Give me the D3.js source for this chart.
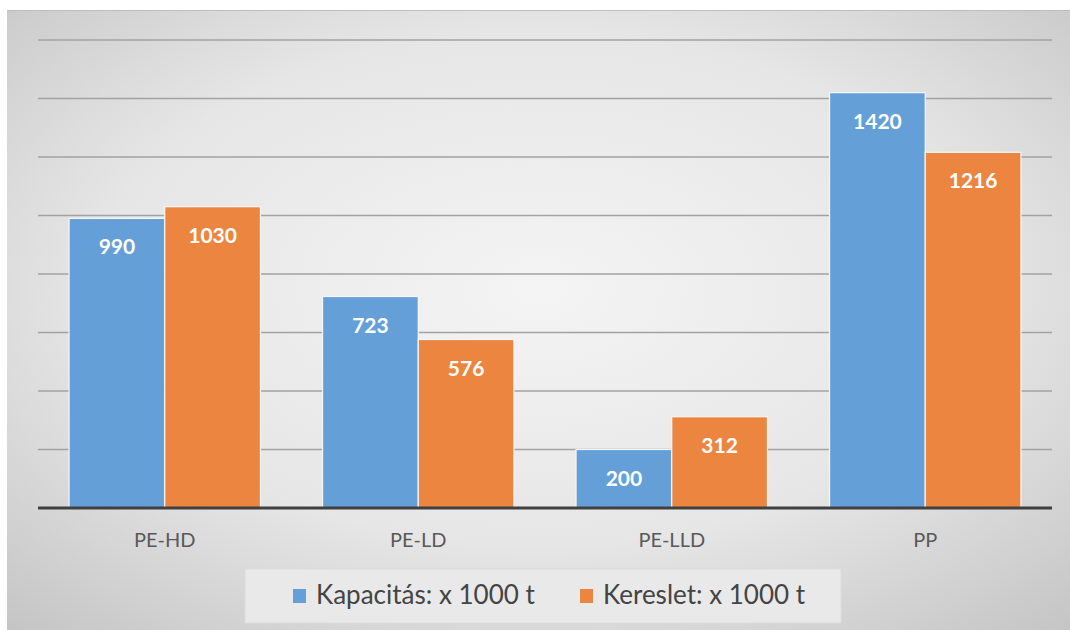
<!DOCTYPE html>
<html><head><meta charset="utf-8">
<script src="https://cdn.jsdelivr.net/npm/d3@7"></script>
<style>body{margin:0;background:#fff}svg{display:block}</style>
</head><body>
<script>
const categories = ["PE-HD", "PE-LD", "PE-LLD", "PP"];
const seriesNames = ["Kapacitás: x 1000 t", "Kereslet: x 1000 t"];
const kapacitas = [990, 723, 200, 1420];
const kereslet = [1030, 576, 312, 1216];
const yTicks = [0, 200, 400, 600, 800, 1000, 1200, 1400, 1600];
const colors = ["#64a0d7", "#eb853f"];

(function () {
const W = 1070, H = 630;
const svg = d3.select("body").append("svg").attr("width", W).attr("height", H);
const defs = svg.append("defs");
const rg = defs.append("radialGradient").attr("id", "bg")
  .attr("cx", "50%").attr("cy", "45%").attr("r", "75%");
rg.append("stop").attr("offset", "0%").attr("stop-color", "#f4f4f4");
rg.append("stop").attr("offset", "55%").attr("stop-color", "#e6e6e6");
rg.append("stop").attr("offset", "100%").attr("stop-color", "#c4c4c4");

svg.append("rect").attr("x", 7).attr("y", 10).attr("width", W - 7).attr("height", H - 10)
  .attr("fill", "url(#bg)");
svg.append("line").attr("x1", 7).attr("x2", W).attr("y1", 10.5).attr("y2", 10.5)
  .attr("stroke", "#bdbdbd").attr("stroke-width", 1);

const pLeft = 38, pRight = 1052, pTop = 40, pBottom = 508;
const x = d3.scaleBand().domain(categories).range([pLeft, pRight]).paddingInner(0.245).paddingOuter(0.1225);
const xs = d3.scaleBand().domain([0, 1]).range([0, x.bandwidth()]);
const y = d3.scaleLinear().domain([0, 1600]).range([pBottom, pTop]);

svg.append("g").selectAll("line").data(yTicks.slice(1)).join("line")
  .attr("x1", pLeft).attr("x2", pRight)
  .attr("y1", d => y(d)).attr("y2", d => y(d))
  .attr("stroke", "#a2a2a2").attr("stroke-width", 1.5);

const data = categories.map((c, i) => ({ c, vals: [kapacitas[i], kereslet[i]] }));
const g = svg.append("g");
data.forEach(d => {
  d.vals.forEach((v, s) => {
    const bx = x(d.c) + xs(s);
    g.append("rect").attr("x", bx).attr("y", y(v))
      .attr("width", xs.bandwidth()).attr("height", y(0) - y(v))
      .attr("fill", colors[s]).attr("stroke", "#f6f6f6").attr("stroke-width", 1.2);
    g.append("text").attr("x", bx + xs.bandwidth() / 2).attr("y", y(v) + 36)
      .attr("text-anchor", "middle")
      .attr("font-family", "Lato, sans-serif").attr("font-weight", "bold")
      .attr("font-size", 21).attr("fill", "#ffffff").text(v);
  });
});

svg.append("line").attr("x1", pLeft).attr("x2", pRight).attr("y1", y(0)).attr("y2", y(0))
  .attr("stroke", "#404040").attr("stroke-width", 3);

const xAxis = svg.append("g").attr("transform", `translate(0,${pBottom})`)
  .call(d3.axisBottom(x).tickSize(0).tickPadding(0));
xAxis.select(".domain").remove();
xAxis.selectAll("text").attr("dy", null).attr("y", 39)
  .attr("font-family", "Lato, sans-serif").attr("font-size", 20).attr("fill", "#595959");

const lg = svg.append("g");
lg.append("rect").attr("x", 245).attr("y", 569).attr("width", 596).attr("height", 54)
  .attr("fill", "#e9e9e9").attr("stroke", "#dcdcdc");
const legX = [293, 580];
seriesNames.forEach((n, i) => {
  lg.append("rect").attr("x", legX[i]).attr("y", 589).attr("width", 13).attr("height", 14).attr("fill", colors[i]);
  lg.append("text").attr("x", legX[i] + 23).attr("y", 604)
    .attr("font-family", "Lato, sans-serif").attr("font-size", 26).attr("fill", "#444444").text(n);
});
})();
</script>
</body></html>
